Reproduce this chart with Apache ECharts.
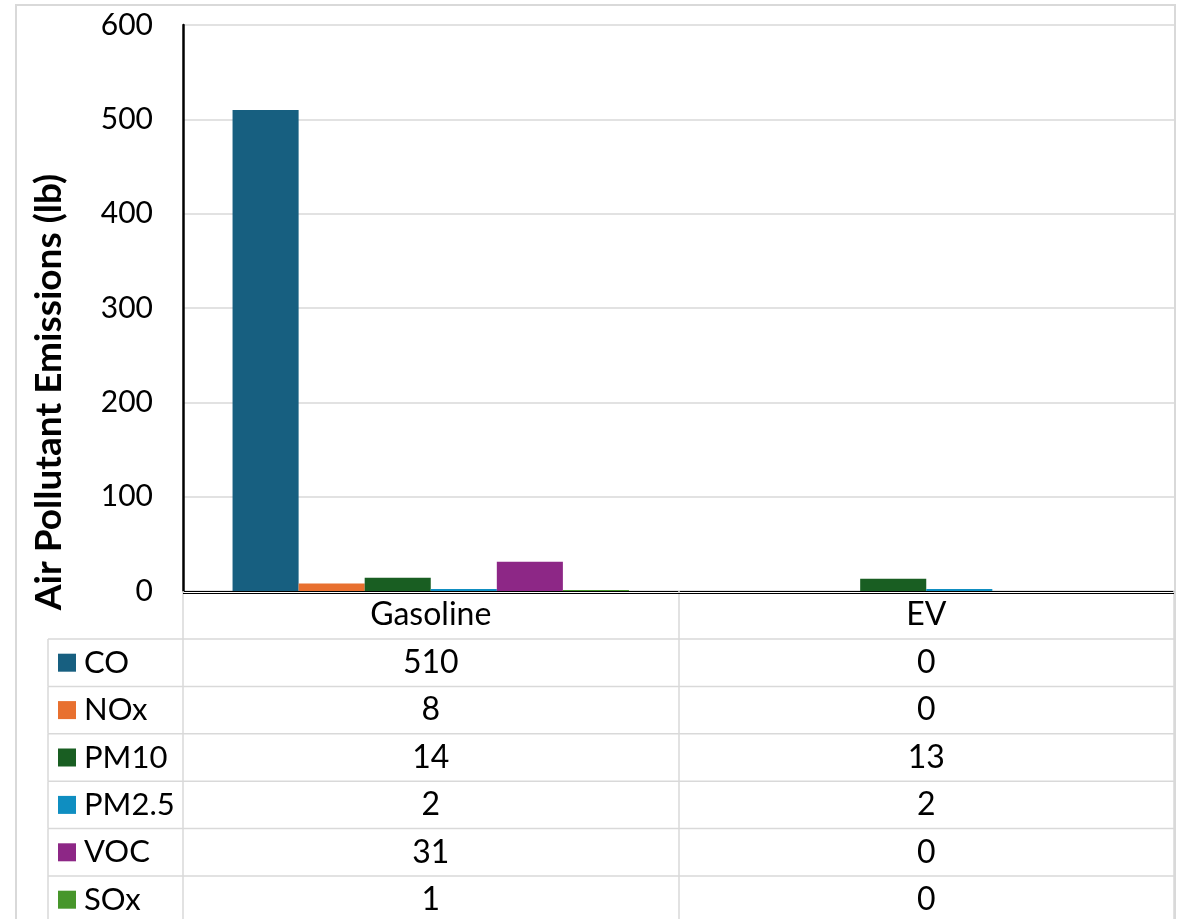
<!DOCTYPE html>
<html>
<head>
<meta charset="utf-8">
<script src="https://cdn.jsdelivr.net/npm/echarts@6/dist/echarts.min.js"></script>
<style>
html,body{margin:0;padding:0;background:#fff;}
#chart{width:1183px;height:919px;}
</style>
</head>
<body>
<div id="chart"></div>
<script>
const categories = ['Gasoline', 'EV'];
const pollutants = ['CO', 'NOx', 'PM10', 'PM2.5', 'VOC', 'SOx'];
const gasolineValues = [510, 8, 14, 2, 31, 1];
const evValues = [0, 0, 13, 2, 0, 0];
const colors = ['#175F80', '#E8702F', '#195E22', '#0F8EC1', '#8D2786', '#47962B'];
const yTicks = { min: 0, max: 600, interval: 100 };
const yTitle = 'Air Pollutant Emissions (lb)';

const FONT = 'Lato';
const FS = 30;
const TABLE_FS = 32;
const LEGEND_FS = 31;
const TITLE_FS = 37;
const GRID_LINE = '#d9d9d9';
const HEADER_H = 48;
const ROW_H = 47.4;
const LEGEND_COL_W = 135;

const chart = echarts.init(document.getElementById('chart'), null, { renderer: 'canvas' });

const barSeries = pollutants.map((name, i) => ({
  name: name,
  type: 'bar',
  data: [gasolineValues[i], evValues[i]],
  itemStyle: { color: colors[i] },
  barGap: '0%',
  barCategoryGap: '20%',
  z: 2
}));

const tableSeries = {
  type: 'custom',
  name: 'table',
  coordinateSystem: 'cartesian2d',
  silent: true,
  z: 5,
  data: pollutants.map(() => [0, 0]),
  renderItem: function (params, api) {
    const i = params.dataIndex;
    const p0 = api.coord([0, 0]);
    const p1 = api.coord([1, 0]);
    const cellW = api.size([1, 0])[0];
    const gridLeft = p0[0] - cellW / 2;
    const gridRight = gridLeft + cellW * categories.length;
    const legendLeft = gridLeft - LEGEND_COL_W;
    const top = p0[1] + HEADER_H + i * ROW_H;
    const mid = top + ROW_H / 2;
    const children = [];
    const lineStyle = { stroke: GRID_LINE, lineWidth: 1.5 };
    children.push({ type: 'line', shape: { x1: legendLeft, y1: top, x2: gridRight, y2: top }, style: lineStyle });
    children.push({ type: 'line', shape: { x1: legendLeft, y1: top, x2: legendLeft, y2: top + ROW_H }, style: lineStyle });
    if (i === 0) {
      children.push({ type: 'line', shape: { x1: gridLeft, y1: p0[1] + 2.5, x2: gridRight, y2: p0[1] + 2.5 }, style: { stroke: '#000', lineWidth: 1.2 } });
    }
    children.push({ type: 'rect', shape: { x: legendLeft + 10, y: mid - 9, width: 18, height: 18 }, style: { fill: colors[i] } });
    children.push({ type: 'text', style: { x: legendLeft + 36, y: mid, text: pollutants[i], fill: '#000', font: LEGEND_FS + 'px ' + FONT, textAlign: 'left', textVerticalAlign: 'middle' } });
    children.push({ type: 'text', style: { x: p0[0], y: mid, text: String(gasolineValues[i]), fill: '#000', font: TABLE_FS + 'px ' + FONT, textAlign: 'center', textVerticalAlign: 'middle' } });
    children.push({ type: 'text', style: { x: p1[0], y: mid, text: String(evValues[i]), fill: '#000', font: TABLE_FS + 'px ' + FONT, textAlign: 'center', textVerticalAlign: 'middle' } });
    return { type: 'group', children: children };
  }
};

const option = {
  animation: false,
  backgroundColor: '#fff',
  textStyle: { fontFamily: FONT },
  grid: { left: 183, right: 9, top: 25, bottom: 328, containLabel: false },
  xAxis: {
    type: 'category',
    data: categories,
    axisLine: { show: true, lineStyle: { color: '#000', width: 1.2 } },
    axisTick: { show: true, length: 340, alignWithLabel: false, lineStyle: { color: GRID_LINE, width: 1.5 } },
    axisLabel: { fontFamily: FONT, fontSize: TABLE_FS, color: '#000', margin: 8 },
    splitLine: { show: false }
  },
  yAxis: {
    type: 'value',
    min: yTicks.min,
    max: yTicks.max,
    interval: yTicks.interval,
    axisLine: { show: true, lineStyle: { color: '#000', width: 2.5 } },
    axisTick: { show: false },
    axisLabel: { fontFamily: FONT, fontSize: FS, color: '#000', margin: 30 },
    splitLine: { show: true, lineStyle: { color: GRID_LINE, width: 1.5 } }
  },
  graphic: [
    { type: 'rect', shape: { x: 16, y: 5, width: 1159, height: 1000 }, style: { fill: 'none', stroke: GRID_LINE, lineWidth: 2 }, silent: true, z: -1 },
    { type: 'text', x: 49, y: 392, rotation: Math.PI / 2, style: { text: yTitle, fill: '#000', font: 'bold ' + TITLE_FS + 'px ' + FONT, textAlign: 'center', textVerticalAlign: 'middle' }, silent: true }
  ],
  series: barSeries.concat([tableSeries])
};

chart.setOption(option);
</script>
</body>
</html>
